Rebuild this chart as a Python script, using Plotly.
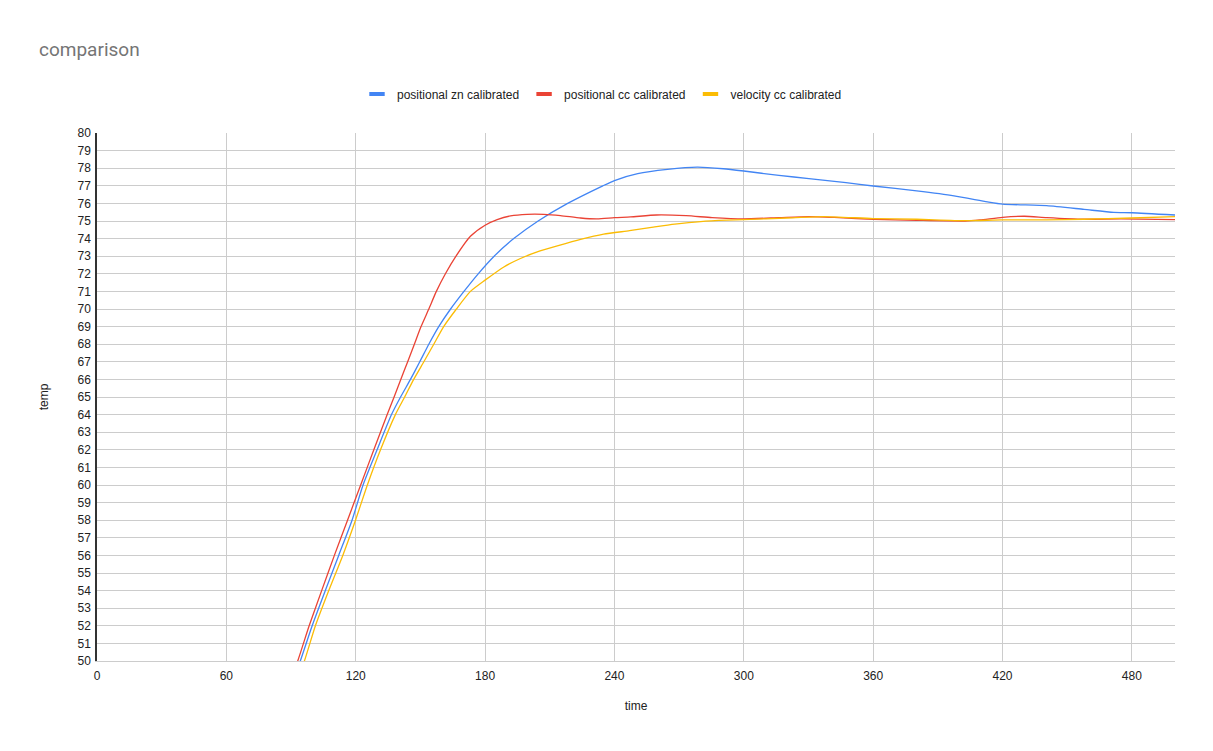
import plotly.graph_objects as go

# ---- data ----
zn_time = [85, 94.3, 99.8, 105.9, 112.1, 118.3, 123.4, 129.9, 136.6, 140.8, 145.4, 149.7,
           153.9, 158.5, 164, 170.2, 176.8, 184.2, 193.3, 204.6, 218.3, 234.6,
           240, 250.8, 264.6, 278.4, 290.5, 300, 316.3, 330.2, 347.4, 360, 380.2,
           397.5, 413, 420, 440.5, 457.8, 471.6, 480, 500]
zn_temp = [46.8, 50, 52, 54, 56, 58, 60, 62, 64, 65, 66, 67,
           68, 69, 70, 71, 72, 73, 74, 75, 76, 77,
           77.3, 77.69, 77.93, 78.06, 77.97, 77.84, 77.59, 77.41, 77.18, 76.99, 76.71,
           76.43, 76.09, 75.96, 75.87, 75.66, 75.49, 75.47, 75.34]

pcc_time = [85, 93.1, 98.4, 104.2, 110.1, 116.2, 122.3, 128.4, 134.6,
            137.8, 140.9, 144.1, 147.2, 150.3, 153.9, 157.4, 161.6, 166.5, 173.2, 180, 185.6,
            191.8, 199.5, 207.2, 215, 224.3, 232, 240, 247.5, 259.5, 273.3, 285.3, 300,
            316.3, 330.2, 344, 360, 380.2, 402.6, 409.5, 420, 430.2, 440.5, 457.8, 475, 500]
pcc_temp = [47.4, 50, 52, 54, 56, 58, 60, 62, 64,
            65, 66, 67, 68, 69, 70, 71, 72, 73, 74.13, 74.76, 75.08,
            75.29, 75.38, 75.38, 75.31, 75.17, 75.12, 75.19, 75.23, 75.34, 75.3, 75.19, 75.12,
            75.19, 75.25, 75.19, 75.1, 75.04, 75.0, 75.06, 75.21, 75.27, 75.19, 75.1, 75.12, 75.08]

vcc_time = [85, 96.2, 101.3, 107.5, 114, 119.9, 125.4, 131.5, 138.4, 142.7, 146.9, 151.6,
            156.2, 160.8, 166.7, 173.2, 180, 188.7, 196.4, 204.2, 213.5, 224.3, 235,
            247, 258, 268, 280, 292, 300, 319.8, 337, 360, 380.2, 402.6, 420, 440.5,
            457.8, 480, 500]
vcc_temp = [46.3, 50, 52, 54, 56, 58, 60, 62, 64, 65, 66, 67,
            68, 69, 70, 71, 71.64, 72.39, 72.87, 73.24, 73.58, 73.95, 74.25,
            74.45, 74.65, 74.82, 74.97, 75.05, 75.08, 75.17, 75.25, 75.14, 75.1, 75.02, 75.06, 75.06,
            75.1, 75.17, 75.25]

series_names = ["positional zn calibrated", "positional cc calibrated", "velocity cc calibrated"]
series_colors = ["#4285f4", "#ea4335", "#fbbc04"]
x_ticks = [0, 60, 120, 180, 240, 300, 360, 420, 480]
y_ticks = list(range(50, 81))

# The page body has an 8px margin, so the figure is drawn 8px in from the top-left.
W, H = 1205, 743

fig = go.Figure()
for name, color, xs, ys in zip(series_names, series_colors,
                               [zn_time, pcc_time, vcc_time],
                               [zn_temp, pcc_temp, vcc_temp]):
    fig.add_trace(go.Scatter(x=xs, y=ys, mode="lines", name=name,
                             line=dict(color=color, width=1.3, shape="spline", smoothing=0.6),
                             showlegend=False))
    # legend entry drawn as a short thick bar
    fig.add_trace(go.Scatter(x=[None], y=[None], mode="markers", name=name,
                             marker=dict(symbol="line-ew", size=11,
                                         line=dict(color=color, width=4)),
                             showlegend=True))

fig.update_layout(
    width=W, height=H,
    paper_bgcolor="white", plot_bgcolor="white",
    margin=dict(l=89, r=38, t=125, b=90, pad=0),
    font=dict(family="Arial, Liberation Sans, sans-serif", size=12, color="#222222"),
    title=dict(text="comparison", x=31 / W, xanchor="left", xref="container",
               y=1 - 41 / H, yanchor="middle", yref="container",
               font=dict(family="Roboto, sans-serif", size=19, color="#757575")),
    legend=dict(orientation="h", xref="container", x=594 / W, xanchor="center",
                yref="container", y=1 - 86 / H, yanchor="middle",
                font=dict(size=12, color="#222222"), itemwidth=30,
                bgcolor="rgba(0,0,0,0)"),
    xaxis=dict(range=[0, 500], tickvals=x_ticks, ticktext=[str(v) for v in x_ticks],
               showgrid=True, gridcolor="#cccccc", gridwidth=1, zeroline=False,
               showline=True, linecolor="#cccccc", linewidth=1,
               ticks="outside", ticklen=4, tickcolor="rgba(0,0,0,0)",
               title=dict(text="time", standoff=19, font=dict(size=12))),
    yaxis=dict(range=[50, 80], tickvals=y_ticks, ticktext=[str(v) for v in y_ticks],
               showgrid=True, gridcolor="#cccccc", gridwidth=1, zeroline=False,
               showline=True, linecolor="#333333", linewidth=1.5,
               ticks="outside", ticklen=2, tickcolor="rgba(0,0,0,0)",
               title=dict(text="temp", standoff=26, font=dict(size=12))),
)

fig.write_html("out.html")
